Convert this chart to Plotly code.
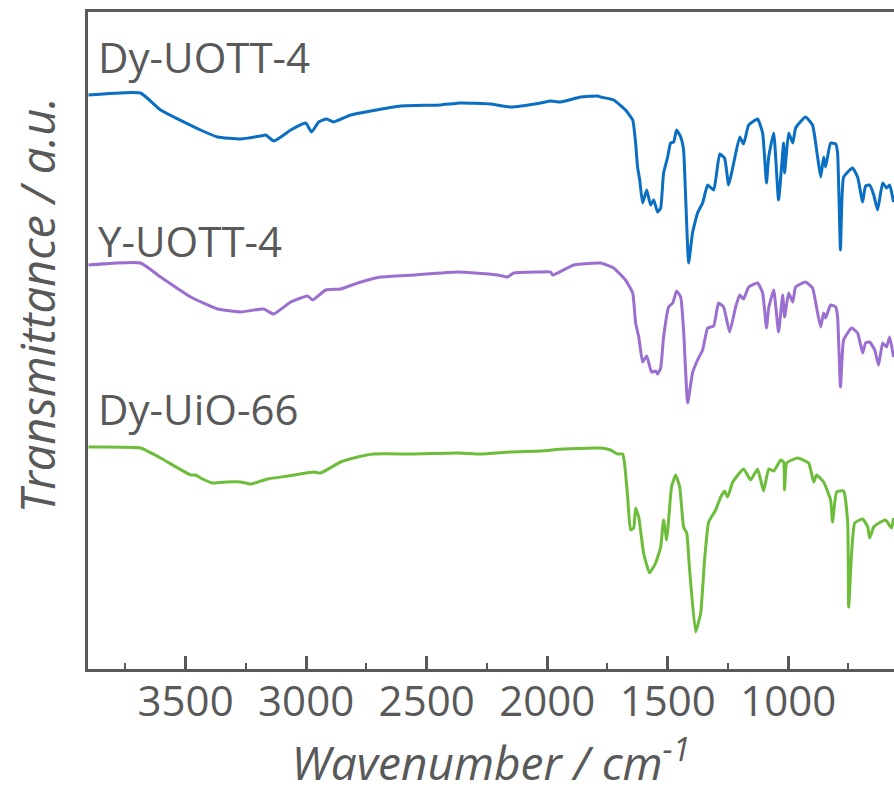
import plotly.graph_objects as go

# ---- Data ----
# Dy-UOTT-4 (blue)
dy_uott_wn = [3903, 3687, 3604, 3438, 3367, 3272, 3189, 3168, 3133, 3064, 3002, 2977, 2948, 2915, 2886,
              2815, 2732, 2608, 2442, 2359, 2235, 2152, 2027, 1986, 1944, 1861, 1791, 1778, 1724, 1675,
              1645, 1633, 1625, 1616, 1604, 1587, 1571, 1558, 1542, 1529, 1517, 1500, 1488, 1475, 1463,
              1446, 1434, 1425, 1413, 1397, 1376, 1355, 1334, 1309, 1284, 1264, 1247, 1226, 1201, 1185,
              1164, 1127, 1106, 1090, 1081, 1060, 1040, 1019, 1015, 998, 981, 969, 928, 899, 878,
              865, 853, 845, 824, 803, 795, 783, 770, 733, 712, 691, 679, 662, 645, 629,
              608, 592, 579, 563]
dy_uott_t = [5.74, 5.76, 5.59, 5.39, 5.32, 5.30, 5.33, 5.34, 5.28, 5.39, 5.46, 5.37, 5.47, 5.50, 5.47,
             5.54, 5.58, 5.63, 5.64, 5.66, 5.65, 5.62, 5.66, 5.68, 5.67, 5.72, 5.73, 5.72, 5.69, 5.59,
             5.49, 5.26, 5.02, 4.89, 4.66, 4.79, 4.64, 4.69, 4.57, 4.61, 4.96, 5.12, 5.26, 5.27, 5.39,
             5.32, 5.19, 4.69, 4.06, 4.36, 4.56, 4.66, 4.84, 4.79, 5.15, 5.11, 4.84, 5.06, 5.32, 5.25,
             5.44, 5.50, 5.36, 4.86, 5.12, 5.36, 4.69, 5.26, 4.96, 5.36, 5.26, 5.41, 5.52, 5.44, 5.12,
             4.92, 5.12, 5.02, 5.26, 5.25, 5.16, 4.19, 4.92, 5.01, 4.92, 4.67, 4.83, 4.84, 4.74, 4.59,
             4.86, 4.81, 4.84, 4.67]

# Y-UOTT-4 (purple)
y_uott_wn = [3903, 3687, 3604, 3479, 3367, 3272, 3176, 3135, 3064, 2994, 2973, 2919, 2857, 2786, 2691,
             2554, 2372, 2206, 2164, 2139, 2039, 1986, 1977, 1890, 1791, 1778, 1724, 1675, 1645, 1633,
             1620, 1604, 1587, 1567, 1550, 1542, 1529, 1517, 1496, 1479, 1463, 1446, 1434, 1417, 1397,
             1376, 1355, 1334, 1309, 1289, 1268, 1243, 1218, 1201, 1185, 1164, 1127, 1106, 1090, 1081,
             1060, 1040, 1023, 1015, 998, 981, 969, 928, 899, 878, 865, 853, 845, 824, 803,
             795, 783, 770, 737, 712, 691, 679, 662, 641, 625, 608, 592, 579, 563]
y_uott_t = [4.04, 4.06, 3.92, 3.72, 3.60, 3.57, 3.60, 3.55, 3.67, 3.73, 3.69, 3.79, 3.80, 3.86, 3.92,
            3.94, 3.97, 3.94, 3.92, 3.96, 3.97, 3.97, 3.94, 4.04, 4.06, 4.06, 4.01, 3.89, 3.76, 3.46,
            3.32, 3.07, 3.13, 2.97, 2.98, 2.95, 3.01, 3.32, 3.62, 3.66, 3.78, 3.72, 3.39, 2.66, 2.96,
            3.09, 3.19, 3.41, 3.43, 3.66, 3.62, 3.37, 3.62, 3.74, 3.70, 3.82, 3.86, 3.76, 3.41, 3.61,
            3.79, 3.37, 3.74, 3.52, 3.76, 3.67, 3.82, 3.87, 3.81, 3.56, 3.42, 3.56, 3.51, 3.64, 3.62,
            3.52, 2.82, 3.29, 3.41, 3.36, 3.16, 3.26, 3.27, 3.19, 3.04, 3.26, 3.22, 3.32, 3.12]

# Dy-UiO-66 (green)
dy_uio_wn = [3903, 3687, 3604, 3479, 3459, 3438, 3388, 3326, 3272, 3230, 3160, 3077, 2969, 2940, 2857,
             2786, 2720, 2554, 2372, 2276, 2152, 2027, 1932, 1791, 1778, 1737, 1708, 1687, 1679, 1666,
             1654, 1641, 1633, 1620, 1600, 1575, 1550, 1529, 1517, 1504, 1496, 1484, 1467, 1450, 1434,
             1421, 1409, 1384, 1363, 1347, 1330, 1301, 1280, 1264, 1251, 1230, 1185, 1156, 1127, 1102,
             1081, 1060, 1031, 1019, 1015, 1006, 961, 915, 894, 882, 853, 824, 816, 799, 770,
             753, 749, 737, 724, 691, 670, 662, 645, 616, 596, 571, 563]
dy_uio_t = [2.22, 2.21, 2.11, 1.94, 1.94, 1.91, 1.86, 1.87, 1.87, 1.85, 1.90, 1.93, 1.97, 1.96, 2.07,
            2.12, 2.15, 2.15, 2.16, 2.15, 2.17, 2.18, 2.20, 2.21, 2.21, 2.19, 2.15, 2.15, 2.06, 1.72,
            1.39, 1.41, 1.61, 1.52, 1.16, 0.96, 1.06, 1.22, 1.49, 1.29, 1.49, 1.82, 1.94, 1.82, 1.42,
            1.36, 0.99, 0.37, 0.56, 1.09, 1.47, 1.59, 1.72, 1.78, 1.72, 1.87, 2.00, 1.89, 2.00, 1.78,
            2.00, 1.98, 2.09, 2.07, 1.79, 2.06, 2.11, 2.06, 1.87, 1.94, 1.87, 1.69, 1.47, 1.77, 1.78,
            1.46, 0.62, 1.16, 1.46, 1.50, 1.42, 1.31, 1.42, 1.47, 1.49, 1.41, 1.51]

series_names = ["Dy-UOTT-4", "Y-UOTT-4", "Dy-UiO-66"]
series_colors = ["#0A6FC2", "#9B6FD0", "#6CBE3A"]
label_y = [6.13, 4.29, 2.61]
tick_vals = [3500, 3000, 2500, 2000, 1500, 1000]
minor_vals = [3750, 3250, 2750, 2250, 1750, 1250, 750]
x_range = [3905, 561]
y_range = [0, 6.57]

GRAY = "#595959"
FONT = "Open Sans"

fig = go.Figure()
for name, wn, t, c in zip(series_names,
                          [dy_uott_wn, y_uott_wn, dy_uio_wn],
                          [dy_uott_t, y_uott_t, dy_uio_t],
                          series_colors):
    fig.add_trace(go.Scatter(x=wn, y=t, mode="lines", name=name,
                             line=dict(color=c, width=3, shape="spline", smoothing=0.4),
                             showlegend=False))

for name, yy in zip(series_names, label_y):
    fig.add_annotation(x=3870, y=yy, xref="x", yref="y", text=name, showarrow=False,
                       xanchor="left", yanchor="middle",
                       font=dict(family=FONT, size=42, color=GRAY))

fig.add_annotation(text="Transmittance / a.u.", textangle=-90, showarrow=False,
                   xref="paper", yref="paper", x=-0.063, y=0.554,
                   xanchor="center", yanchor="middle",
                   font=dict(family=FONT, size=47, color=GRAY, style="italic"))

fig.update_layout(
    width=894, height=793,
    margin=dict(l=88, r=0, t=12, b=124),
    paper_bgcolor="white", plot_bgcolor="white",
    font=dict(family=FONT, color=GRAY),
)
fig.update_xaxes(range=x_range, tickvals=tick_vals, ticktext=[str(v) for v in tick_vals],
                 showline=True, linecolor=GRAY, linewidth=2.5, mirror=True,
                 ticks="inside", ticklen=13, tickwidth=2.5, tickcolor=GRAY,
                 minor=dict(ticks="inside", ticklen=6, tickwidth=2, tickcolor=GRAY,
                            tickvals=minor_vals),
                 showgrid=False, zeroline=False, ticklabelstandoff=-6,
                 tickfont=dict(family=FONT, size=42, color=GRAY),
                 title=dict(text="Wavenumber / cm<sup>-1</sup>", standoff=12,
                            font=dict(family=FONT, size=46, color=GRAY, style="italic")))
fig.update_yaxes(range=y_range, showline=True, linecolor=GRAY, linewidth=2.5, mirror=False,
                 showticklabels=False, ticks="", showgrid=False, zeroline=False)

fig.write_html("out.html")
